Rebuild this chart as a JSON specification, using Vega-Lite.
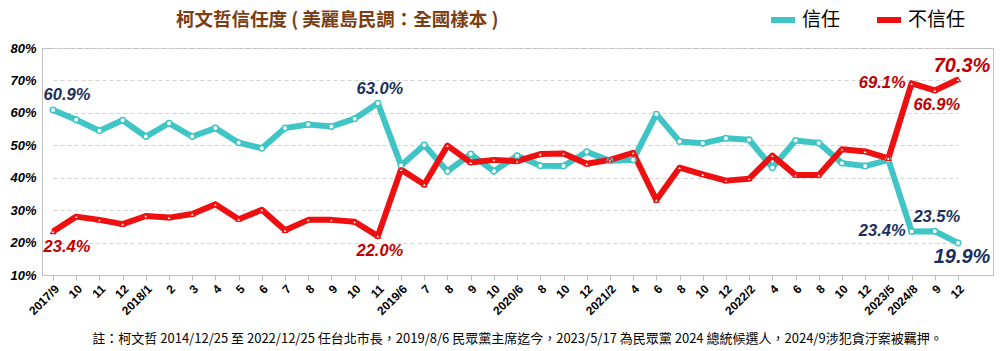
{
 "$schema": "https://vega.github.io/schema/vega-lite/v6.json",
 "width": 951, "height": 227,
 "autosize": {"type": "none"},
 "padding": {"left": 42, "top": 48, "right": 7, "bottom": 76},
 "background": "white",
 "config": {"view": {"stroke": "#bfbfbf", "strokeWidth": 1}, "font": "Liberation Sans"},
 "title": {"text": "柯文哲信任度 ( 美麗島民調：全國樣本 )", "anchor": "start", "dx": 166, "offset": -24, "font": "Noto Sans CJK TC", "fontSize": 18.5, "fontWeight": "bold", "color": "#7a3e12"},
 "data": {"values": [
  {"date":"2017/9","series":"信任","value":60.9},{"date":"2017/10","series":"信任","value":57.9},{"date":"2017/11","series":"信任","value":54.5},{"date":"2017/12","series":"信任","value":57.7},
  {"date":"2018/1","series":"信任","value":52.7},{"date":"2018/2","series":"信任","value":56.8},{"date":"2018/3","series":"信任","value":52.7},{"date":"2018/4","series":"信任","value":55.3},
  {"date":"2018/5","series":"信任","value":50.8},{"date":"2018/6","series":"信任","value":49.1},{"date":"2018/7","series":"信任","value":55.3},{"date":"2018/8","series":"信任","value":56.4},
  {"date":"2018/9","series":"信任","value":55.8},{"date":"2018/10","series":"信任","value":58.2},{"date":"2018/11","series":"信任","value":63.0},{"date":"2019/6","series":"信任","value":43.8},
  {"date":"2019/7","series":"信任","value":50.1},{"date":"2019/8","series":"信任","value":42.0},{"date":"2019/9","series":"信任","value":47.3},{"date":"2019/10","series":"信任","value":42.0},
  {"date":"2020/6","series":"信任","value":46.8},{"date":"2020/8","series":"信任","value":43.7},{"date":"2020/10","series":"信任","value":43.6},{"date":"2020/12","series":"信任","value":48.0},
  {"date":"2021/2","series":"信任","value":45.2},{"date":"2021/4","series":"信任","value":45.5},{"date":"2021/6","series":"信任","value":59.6},{"date":"2021/8","series":"信任","value":51.2},
  {"date":"2021/10","series":"信任","value":50.6},{"date":"2021/12","series":"信任","value":52.2},{"date":"2022/2","series":"信任","value":51.7},{"date":"2022/4","series":"信任","value":43.1},
  {"date":"2022/6","series":"信任","value":51.5},{"date":"2022/8","series":"信任","value":50.7},{"date":"2022/10","series":"信任","value":44.5},{"date":"2022/12","series":"信任","value":43.6},
  {"date":"2023/5","series":"信任","value":45.5},{"date":"2024/8","series":"信任","value":23.4},{"date":"2024/9","series":"信任","value":23.5},{"date":"2024/12","series":"信任","value":19.9},
  {"date":"2017/9","series":"不信任","value":23.4},{"date":"2017/10","series":"不信任","value":28.0},{"date":"2017/11","series":"不信任","value":27.0},{"date":"2017/12","series":"不信任","value":25.7},
  {"date":"2018/1","series":"不信任","value":28.2},{"date":"2018/2","series":"不信任","value":27.7},{"date":"2018/3","series":"不信任","value":28.8},{"date":"2018/4","series":"不信任","value":31.8},
  {"date":"2018/5","series":"不信任","value":27.2},{"date":"2018/6","series":"不信任","value":30.1},{"date":"2018/7","series":"不信任","value":23.8},{"date":"2018/8","series":"不信任","value":27.0},
  {"date":"2018/9","series":"不信任","value":27.0},{"date":"2018/10","series":"不信任","value":26.4},{"date":"2018/11","series":"不信任","value":22.0},{"date":"2019/6","series":"不信任","value":42.5},
  {"date":"2019/7","series":"不信任","value":37.9},{"date":"2019/8","series":"不信任","value":49.9},{"date":"2019/9","series":"不信任","value":44.7},{"date":"2019/10","series":"不信任","value":45.5},
  {"date":"2020/6","series":"不信任","value":45.1},{"date":"2020/8","series":"不信任","value":47.3},{"date":"2020/10","series":"不信任","value":47.5},{"date":"2020/12","series":"不信任","value":44.3},
  {"date":"2021/2","series":"不信任","value":45.5},{"date":"2021/4","series":"不信任","value":47.7},{"date":"2021/6","series":"不信任","value":33.1},{"date":"2021/8","series":"不信任","value":43.1},
  {"date":"2021/10","series":"不信任","value":41.0},{"date":"2021/12","series":"不信任","value":39.1},{"date":"2022/2","series":"不信任","value":39.7},{"date":"2022/4","series":"不信任","value":46.8},
  {"date":"2022/6","series":"不信任","value":40.8},{"date":"2022/8","series":"不信任","value":40.8},{"date":"2022/10","series":"不信任","value":48.8},{"date":"2022/12","series":"不信任","value":48.1},
  {"date":"2023/5","series":"不信任","value":46.0},{"date":"2024/8","series":"不信任","value":69.1},{"date":"2024/9","series":"不信任","value":66.9},{"date":"2024/12","series":"不信任","value":70.3}
 ]},
 "encoding": {
  "x": {"field": "date", "type": "ordinal", "sort": null,
        "scale": {"type": "point", "range": [11, 916], "padding": 0},
        "axis": {"title": "註：柯文哲 2014/12/25 至 2022/12/25 任台北市長，2019/8/6 民眾黨主席迄今，2023/5/17 為民眾黨 2024 總統候選人，2024/9涉犯貪汙案被羈押。",
                 "titleFont": "Noto Sans CJK TC", "titleFontSize": 13, "titleFontWeight": "normal", "titleColor": "black",
                 "titleY": 63, "titleX": 475, "titleBaseline": "middle", "titleAnchor": "middle",
                 "labelAngle": -45, "labelFont": "Liberation Sans", "labelFontWeight": "bold", "labelFontSize": 12, "labelColor": "black",
                 "labelOverlap": false, "labelPadding": 3,
                 "labelExpr": "indexof(['2017/9','2018/1','2019/6','2020/6','2021/2','2022/2','2023/5','2024/8'], datum.value) >= 0 ? datum.value : split(datum.value, '/')[1]",
                 "domainColor": "#bfbfbf", "tickColor": "#bfbfbf", "tickSize": 5, "grid": false}},
  "y": {"field": "value", "type": "quantitative",
        "scale": {"domain": [10, 80], "nice": false, "zero": false},
        "axis": {"title": null, "values": [10,20,30,40,50,60,70,80], "labelExpr": "datum.value + '%'",
                 "ticks": false, "domainColor": "#bfbfbf", "gridDash": [4,3], "gridColor": "#d3d3d3",
                 "labelFont": "Liberation Sans", "labelFontSize": 13, "labelFontWeight": "bold", "labelFontStyle": "italic", "labelColor": "black", "labelPadding": 6}}
 },
 "layer": [
  {"mark": {"type": "line", "strokeWidth": 6, "strokeJoin": "round"},
   "encoding": {"color": {"field": "series", "type": "nominal",
     "scale": {"domain": ["信任","不信任"], "range": ["#3fc5c6","#ee1010"]},
     "legend": {"title": null, "orient": "none", "legendX": 726, "legendY": -43, "direction": "horizontal",
                "symbolType": "stroke", "symbolStrokeWidth": 6, "symbolSize": 576,
                "labelFont": "Noto Sans CJK TC", "labelFontSize": 19, "labelColor": "black", "columnPadding": 24}}}},
  {"transform": [{"filter": "datum.series=='信任'"}],
   "mark": {"type": "point", "shape": "circle", "filled": false, "fill": "white", "stroke": "#3fc5c6", "opacity": 1, "strokeWidth": 1.5, "size": 30}},
  {"transform": [{"filter": "datum.series=='不信任'"}],
   "mark": {"type": "point", "shape": "triangle-up", "filled": false, "fill": "white", "stroke": "#ee1010", "opacity": 1, "strokeWidth": 1.2, "size": 22}},
  {"transform": [{"filter": "datum.series=='信任' && datum.date=='2017/9'"}, {"calculate": "format(datum.value,'.1f') + '%'", "as": "lbl"}],
   "mark": {"type": "text", "dx": 14, "dy": -15, "fontSize": 16.5, "fontWeight": "bold", "fontStyle": "italic", "color": "#1b2f5e"},
   "encoding": {"text": {"field": "lbl"}}},
  {"transform": [{"filter": "datum.series=='信任' && (datum.date=='2018/11' || datum.date=='2024/9')"}, {"calculate": "format(datum.value,'.1f') + '%'", "as": "lbl"}],
   "mark": {"type": "text", "dx": 2, "dy": -14, "fontSize": 16.5, "fontWeight": "bold", "fontStyle": "italic", "color": "#1b2f5e"},
   "encoding": {"text": {"field": "lbl"}}},
  {"transform": [{"filter": "datum.series=='不信任' && datum.date=='2017/9'"}, {"calculate": "format(datum.value,'.1f') + '%'", "as": "lbl"}],
   "mark": {"type": "text", "dx": 14, "dy": 15, "fontSize": 16.5, "fontWeight": "bold", "fontStyle": "italic", "color": "#c00000"},
   "encoding": {"text": {"field": "lbl"}}},
  {"transform": [{"filter": "datum.series=='不信任' && (datum.date=='2018/11' || datum.date=='2024/9')"}, {"calculate": "format(datum.value,'.1f') + '%'", "as": "lbl"}],
   "mark": {"type": "text", "dx": 2, "dy": 15, "fontSize": 16.5, "fontWeight": "bold", "fontStyle": "italic", "color": "#c00000"},
   "encoding": {"text": {"field": "lbl"}}},
  {"transform": [{"filter": "datum.series=='不信任' && datum.date=='2024/8'"}, {"calculate": "format(datum.value,'.1f') + '%'", "as": "lbl"}],
   "mark": {"type": "text", "align": "right", "dx": -6, "dy": 0, "fontSize": 16.5, "fontWeight": "bold", "fontStyle": "italic", "color": "#c00000"},
   "encoding": {"text": {"field": "lbl"}}},
  {"transform": [{"filter": "datum.series=='信任' && datum.date=='2024/8'"}, {"calculate": "format(datum.value,'.1f') + '%'", "as": "lbl"}],
   "mark": {"type": "text", "align": "right", "dx": -6, "dy": -1, "fontSize": 16.5, "fontWeight": "bold", "fontStyle": "italic", "color": "#1b2f5e"},
   "encoding": {"text": {"field": "lbl"}}},
  {"transform": [{"filter": "datum.series=='不信任' && datum.date=='2024/12'"}, {"calculate": "format(datum.value,'.1f') + '%'", "as": "lbl"}],
   "mark": {"type": "text", "dx": 4, "dy": -13, "fontSize": 20, "fontWeight": "bold", "fontStyle": "italic", "color": "#c00000"},
   "encoding": {"text": {"field": "lbl"}}},
  {"transform": [{"filter": "datum.series=='信任' && datum.date=='2024/12'"}, {"calculate": "format(datum.value,'.1f') + '%'", "as": "lbl"}],
   "mark": {"type": "text", "dx": 4, "dy": 14, "fontSize": 20, "fontWeight": "bold", "fontStyle": "italic", "color": "#1b2f5e"},
   "encoding": {"text": {"field": "lbl"}}}
 ]
}
